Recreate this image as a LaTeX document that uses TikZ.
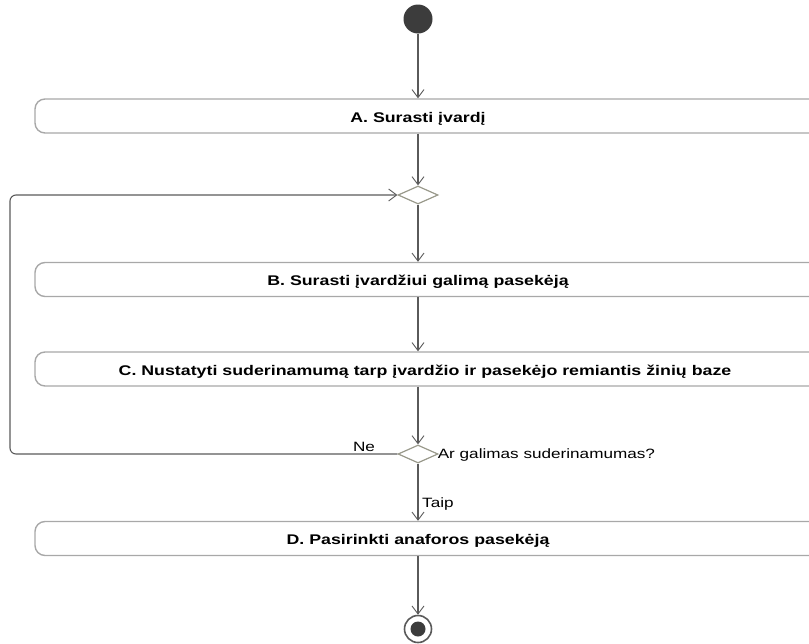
\documentclass[tikz,border=0pt]{standalone}
\usepackage{fontspec}
\setmainfont{Liberation Sans}
\newfontfamily\widesans[FakeStretch=1.27]{Liberation Sans}
\usetikzlibrary{arrows.meta,shapes.geometric}
\definecolor{boxline}{HTML}{A8A8A8}
\definecolor{flowline}{HTML}{5A5A5A}
\definecolor{diamline}{HTML}{9A9A8C}
\definecolor{startfill}{HTML}{3C3C3C}
\tikzset{
  x=1pt, y=-1pt,
  actbox/.style={draw=boxline, line width=1.4pt, rounded corners=10pt,
    minimum height=34pt, minimum width=800pt, inner sep=0pt},
  acttext/.style={font=\widesans\bfseries\fontsize{14}{16}\selectfont, inner sep=0pt,
    yshift=-2.5pt},
  decision/.style={diamond, draw=diamline, line width=1.2pt, fill=white,
    minimum width=40pt, minimum height=18pt, inner sep=0pt, aspect=2.2},
  flow/.style={draw=flowline, line width=1.1pt,
    -{Straight Barb[length=8pt,width=12pt,line width=0.9pt]}},
  guard/.style={font=\widesans\fontsize{13.5}{15}\selectfont, inner sep=0pt},
}
\begin{document}
\begin{tikzpicture}
\useasboundingbox (0,0) rectangle (809,643);
\clip (0,0) rectangle (809,643);

% initial and final nodes
\node[circle, fill=startfill, minimum size=29pt, inner sep=0pt] (start) at (418,19) {};
\node[circle, draw=flowline, line width=1.6pt, fill=white, minimum size=27pt, inner sep=0pt] (final) at (418,629) {};
\node[circle, fill=startfill, minimum size=15pt, inner sep=0pt] (finaldot) at (final.center) {};

% actions
\node[actbox] (A) at (435,116) {};
\node[acttext] (Atext) at (418,116) {A. Surasti įvardį};
\node[actbox] (B) at (435,279.5) {};
\node[acttext] (Btext) at (418,279.5) {B. Surasti įvardžiui galimą pasekėją};
\node[actbox] (C) at (435,369) {};
\node[acttext] (Ctext) at (425,369) {C. Nustatyti suderinamumą tarp įvardžio ir pasekėjo remiantis žinių baze};
\node[actbox] (D) at (435,538.5) {};
\node[acttext] (Dtext) at (418,538.5) {D. Pasirinkti anaforos pasekėją};

% merge and decision
\node[decision] (merge) at (418,195) {};
\node[decision] (check) at (418,454) {};
\coordinate (loopbot) at (10,454);
\coordinate (looptop) at (10,195);

% flows
\draw[flow] (start) -- (start |- A.north);
\draw[flow] (A.south -| merge) -- (merge.north);
\draw[flow] (merge.south) -- (merge |- B.north);
\draw[flow] (B.south -| merge) -- (C.north -| merge);
\draw[flow] (C.south -| check) -- (check.north);
\draw[flow] (check.south) -- (check |- D.north);
\draw[flow] (D.south -| final) -- (final.north);
\draw[flow, rounded corners=6pt] (check.west) -- (loopbot) -- (looptop) -- (merge.west);

% guards and question
\node[guard, anchor=south] (ne) at (364,452) {Ne};
\node[guard, anchor=west] (question) at ([xshift=-1pt,yshift=-1pt]check.east) {Ar galimas suderinamumas?};
\node[guard, anchor=west] (taip) at (422,504) {Taip};
\end{tikzpicture}
\end{document}
